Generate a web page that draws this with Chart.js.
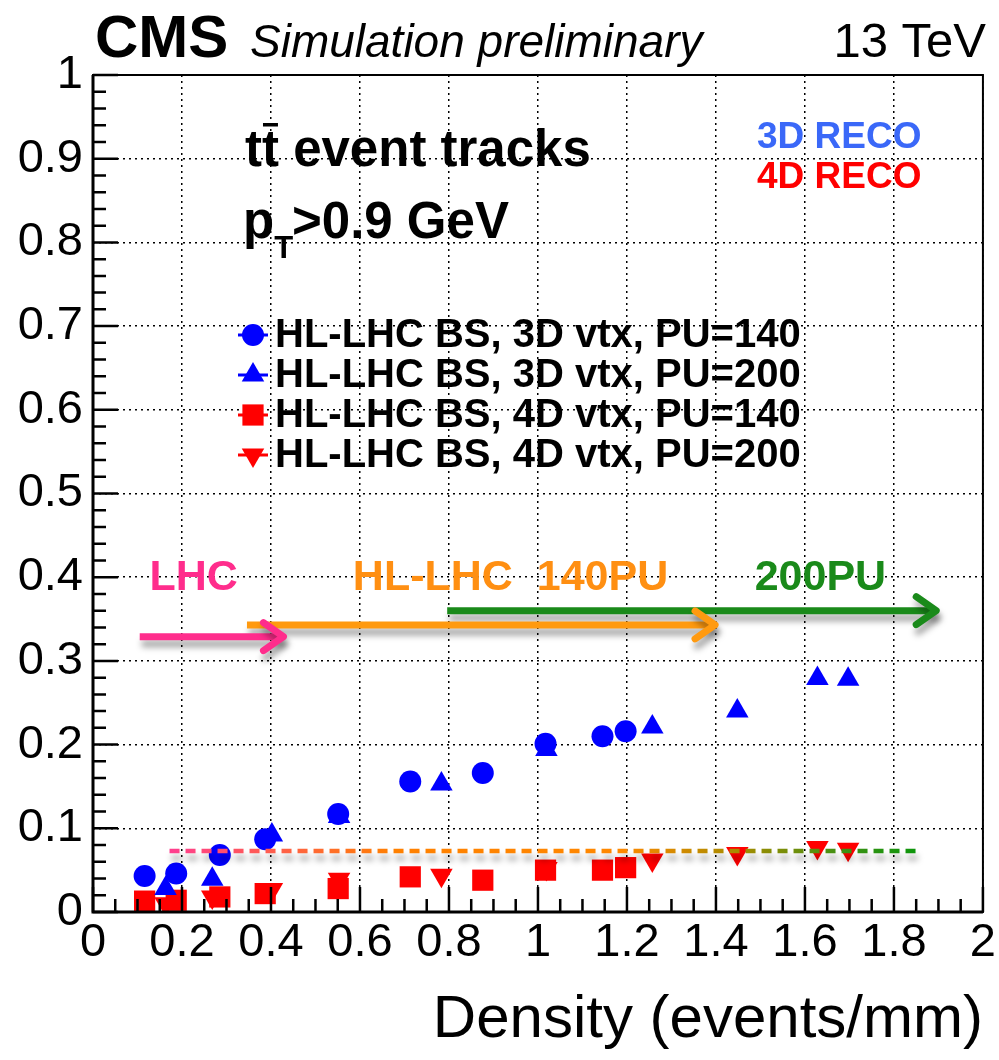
<!DOCTYPE html>
<html lang="en">
<head>
<meta charset="UTF-8">
<title>CMS simulation - tt event tracks vs density</title>
<script src="https://cdn.jsdelivr.net/npm/chart.js@4/dist/chart.umd.min.js"></script>
<style>
  html, body { margin: 0; padding: 0; background: #fff; }
  #wrap { width: 999px; height: 1060px; }
</style>
</head>
<body>
<div id="wrap"><canvas id="chart" width="999" height="1060"></canvas></div>
<script>
'use strict';

// ================================================================
// DATA — fraction vs line density (events/mm)
// ================================================================

// HL-LHC BS, 3D vtx, PU=140 (blue circles)
const dens3D140 = [0.116, 0.187, 0.285, 0.387, 0.551, 0.713, 0.876, 1.017, 1.145, 1.197];
const frac3D140 = [0.043, 0.046, 0.068, 0.087, 0.117, 0.156, 0.166, 0.201, 0.210, 0.216];

// HL-LHC BS, 3D vtx, PU=200 (blue triangles)
const dens3D200 = [0.163, 0.268, 0.402, 0.553, 0.783, 1.019, 1.257, 1.448, 1.628, 1.697];
const frac3D200 = [0.028, 0.039, 0.092, 0.114, 0.153, 0.194, 0.221, 0.240, 0.279, 0.278];

// HL-LHC BS, 4D vtx, PU=140 (red squares)
const dens4D140 = [0.116, 0.187, 0.285, 0.387, 0.551, 0.713, 0.876, 1.017, 1.145, 1.197];
const frac4D140 = [0.013, 0.014, 0.018, 0.022, 0.028, 0.042, 0.038, 0.050, 0.050, 0.053];

// HL-LHC BS, 4D vtx, PU=200 (red inverted triangles)
const dens4D200 = [0.163, 0.268, 0.402, 0.553, 0.783, 1.019, 1.257, 1.448, 1.628, 1.697];
const frac4D200 = [0.010, 0.018, 0.027, 0.039, 0.044, 0.052, 0.062, 0.070, 0.077, 0.075];

// dashed reference line
const refLineX = [0.172, 1.859];
const refLineY = [0.073, 0.073];

// running-period arrows
const lhcArrowX   = [0.105, 0.428];
const lhcArrowY   = [0.329, 0.329];
const hlArrowX    = [0.346, 1.398];
const hlArrowY    = [0.343, 0.343];
const pu200ArrowX = [0.796, 1.895];
const pu200ArrowY = [0.360, 0.360];

const legendLabels = [
  'HL-LHC BS, 3D vtx, PU=140',
  'HL-LHC BS, 3D vtx, PU=200',
  'HL-LHC BS, 4D vtx, PU=140',
  'HL-LHC BS, 4D vtx, PU=200'
];

const FONT = "'Liberation Sans', Arial, Helvetica, sans-serif";
const BLUE = '#0000ff';
const RED  = '#ff0000';
const PINK   = '#ff2d8c';
const ORANGE = '#ff8f12';
const GREEN  = '#1a8a1a';

const toXY = (xs, ys) => xs.map((x, i) => ({ x: x, y: ys[i] }));

// colour runs pink -> orange -> green along the dashed line
function refGradient(ctx) {
  const chart = ctx.chart;
  if (!chart.chartArea) return ORANGE;
  const xs = chart.scales.x;
  const g = chart.ctx.createLinearGradient(
    xs.getPixelForValue(refLineX[0]), 0, xs.getPixelForValue(refLineX[1]), 0);
  g.addColorStop(0, '#ff3d8f');
  g.addColorStop(0.12, '#ff5a55');
  g.addColorStop(0.3, '#ff8000');
  g.addColorStop(0.6, '#ff8800');
  g.addColorStop(0.76, '#a58c00');
  g.addColorStop(0.9, '#3c9014');
  g.addColorStop(1, '#0a960a');
  return g;
}

function markerSet(label, xs, ys, color, style, radius, rotation) {
  return {
    label: label,
    data: toXY(xs, ys),
    pointStyle: style,
    pointRadius: radius,
    pointRotation: rotation || 0,
    backgroundColor: color,
    borderColor: color,
    borderWidth: 0,
    showLine: false
  };
}

function arrowSet(label, xs, ys, color) {
  return {
    label: label,
    data: toXY(xs, ys),
    showLine: true,
    borderColor: color,
    borderWidth: 7,
    pointRadius: 0,
    shadow: true,
    arrowHead: true,
    order: -1
  };
}

// ----------------------------------------------------------------
// Plugin: shadows, arrow heads, frame, ticks, texts, legend
// ----------------------------------------------------------------
const decorPlugin = {
  id: 'decor',
  beforeDatasetDraw(chart, args) {
    const ds = chart.data.datasets[args.index];
    if (!ds.shadow) return;
    const ctx = chart.ctx;
    ctx.save();
    ctx.shadowColor = 'rgba(0,0,0,0.35)';
    ctx.shadowBlur = 6;
    ctx.shadowOffsetX = 2;
    ctx.shadowOffsetY = 7;
  },
  afterDatasetDraw(chart, args) {
    const ds = chart.data.datasets[args.index];
    if (!ds.shadow) return;
    const ctx = chart.ctx;
    if (ds.arrowHead) {
      const pts = args.meta.data;
      const tip = pts[pts.length - 1];
      ctx.beginPath();
      ctx.setLineDash([]);
      ctx.strokeStyle = ds.borderColor;
      ctx.lineWidth = ds.borderWidth;
      ctx.lineCap = 'round';
      ctx.lineJoin = 'round';
      ctx.moveTo(tip.x - 20, tip.y - 14);
      ctx.lineTo(tip.x, tip.y);
      ctx.lineTo(tip.x - 20, tip.y + 14);
      ctx.stroke();
    }
    ctx.restore();
  },
  afterDraw(chart) {
    const ctx = chart.ctx;
    const a = chart.chartArea;
    const xs = chart.scales.x;
    const ys = chart.scales.y;

    ctx.save();
    ctx.setLineDash([]);
    ctx.strokeStyle = '#000';

    // ticks (inside the frame)
    ctx.lineWidth = 2.5;
    ctx.beginPath();
    for (let i = 0; i <= 40; i++) {
      const px = xs.getPixelForValue(i * 0.05);
      const len = i % 4 === 0 ? 25 : 13;
      ctx.moveTo(px, a.bottom);
      ctx.lineTo(px, a.bottom - len);
    }
    for (let i = 0; i <= 50; i++) {
      const py = ys.getPixelForValue(i * 0.02);
      const len = i % 5 === 0 ? 25 : 13;
      ctx.moveTo(a.left, py);
      ctx.lineTo(a.left + len, py);
    }
    ctx.stroke();

    // frame
    ctx.lineWidth = 2;
    ctx.strokeRect(a.left, a.top, a.right - a.left, a.bottom - a.top);
    ctx.lineWidth = 3;
    ctx.beginPath();
    ctx.moveTo(a.left, a.top);
    ctx.lineTo(a.left, a.bottom);
    ctx.lineTo(a.right, a.bottom);
    ctx.stroke();

    // header
    ctx.fillStyle = '#000';
    ctx.textBaseline = 'alphabetic';
    ctx.textAlign = 'left';
    ctx.font = 'bold 60px ' + FONT;
    ctx.fillText('CMS', 95, 57);
    ctx.font = 'italic 46px ' + FONT;
    ctx.fillText('Simulation preliminary', 250, 57);
    ctx.textAlign = 'right';
    ctx.font = '49px ' + FONT;
    ctx.fillText('13 TeV', 986, 57);

    // process / cut text
    ctx.textAlign = 'left';
    ctx.font = 'bold 51px ' + FONT;
    ctx.fillText('tt', 245, 166);
    const wtt = ctx.measureText('tt').width;
    const wt = ctx.measureText('t').width;
    ctx.fillRect(245 + wtt - wt + 1, 123, wt - 2, 3.5);
    ctx.fillText(' event tracks', 245 + wtt, 166);

    ctx.fillText('p', 243, 238);
    const wp = ctx.measureText('p').width;
    ctx.font = 'bold 31px ' + FONT;
    ctx.fillText('T', 243 + wp, 258);
    ctx.font = 'bold 51px ' + FONT;
    ctx.fillText('>0.9 GeV', 292, 238);

    ctx.font = 'bold 37px ' + FONT;
    ctx.fillStyle = '#3a68f8';
    ctx.fillText('3D RECO', 757, 148);
    ctx.fillStyle = RED;
    ctx.fillText('4D RECO', 757, 188);

    // legend
    const rows = [335, 375, 415, 455];
    ctx.font = 'bold 40px ' + FONT;
    ctx.textBaseline = 'middle';
    for (let i = 0; i < 4; i++) {
      const ds = chart.data.datasets[i];
      const y = rows[i];
      ctx.strokeStyle = ds.backgroundColor;
      ctx.fillStyle = ds.backgroundColor;
      ctx.lineWidth = 3;
      ctx.beginPath();
      ctx.moveTo(238, y);
      ctx.lineTo(268, y);
      ctx.stroke();
      if (Chart.helpers && Chart.helpers.drawPoint) {
        Chart.helpers.drawPoint(ctx, {
          pointStyle: ds.pointStyle, radius: ds.pointRadius,
          rotation: ds.pointRotation, borderWidth: 0
        }, 253, y);
      }
      ctx.fillStyle = '#000';
      ctx.fillText(legendLabels[i], 275, y + 1);
    }

    // period labels
    ctx.font = 'bold 43px ' + FONT;
    const ly = ys.getPixelForValue(0.399);
    ctx.fillStyle = PINK;
    ctx.fillText('LHC', xs.getPixelForValue(0.127), ly);
    ctx.fillStyle = ORANGE;
    ctx.fillText('HL-LHC  140PU', xs.getPixelForValue(0.584), ly);
    ctx.fillStyle = GREEN;
    ctx.fillText('200PU', xs.getPixelForValue(1.487), ly);

    ctx.restore();
  }
};

// ----------------------------------------------------------------
// Chart
// ----------------------------------------------------------------
const tickFont = { family: FONT, size: 47 };

new Chart(document.getElementById('chart'), {
  type: 'scatter',
  data: {
    datasets: [
      markerSet(legendLabels[0], dens3D140, frac3D140, BLUE, 'circle', 11),
      markerSet(legendLabels[1], dens3D200, frac3D200, BLUE, 'triangle', 13),
      markerSet(legendLabels[2], dens4D140, frac4D140, RED, 'rect', 15),
      markerSet(legendLabels[3], dens4D200, frac4D200, RED, 'triangle', 13, 180),
      {
        label: 'reference',
        data: toXY(refLineX, refLineY),
        showLine: true,
        borderColor: refGradient,
        borderWidth: 4.5,
        borderDash: [10, 6],
        pointRadius: 0,
        shadow: true,
        order: -1
      },
      arrowSet('LHC', lhcArrowX, lhcArrowY, PINK),
      arrowSet('HL-LHC 140PU', hlArrowX, hlArrowY, '#ff9a10'),
      arrowSet('200PU', pu200ArrowX, pu200ArrowY, '#1a8a1a')
    ]
  },
  options: {
    responsive: false,
    animation: false,
    events: [],
    layout: { padding: { top: 75, right: 11, left: 0, bottom: 0 } },
    plugins: {
      legend: { display: false },
      tooltip: { enabled: false }
    },
    scales: {
      x: {
        type: 'linear',
        min: 0,
        max: 2,
        afterFit: s => { s.height = 148; },
        border: { display: false, dash: [2, 4] },
        grid: { color: '#000', lineWidth: 1.5, drawTicks: false },
        ticks: {
          stepSize: 0.2, padding: 3, color: '#000', font: tickFont,
          maxRotation: 0, autoSkip: false,
          callback: v => String(+v.toFixed(1))
        },
        title: {
          display: true, text: 'Density (events/mm)', align: 'end', color: '#000',
          font: { family: FONT, size: 60 }, padding: { top: 0, bottom: 4 }
        }
      },
      y: {
        type: 'linear',
        min: 0,
        max: 1,
        afterFit: s => { s.width = 93; },
        border: { display: false, dash: [2, 4] },
        grid: { color: '#000', lineWidth: 1.5, drawTicks: false },
        ticks: {
          stepSize: 0.1, padding: 10, color: '#000', font: tickFont,
          callback: v => String(+v.toFixed(1))
        }
      }
    }
  },
  plugins: [decorPlugin]
});
</script>
</body>
</html>
